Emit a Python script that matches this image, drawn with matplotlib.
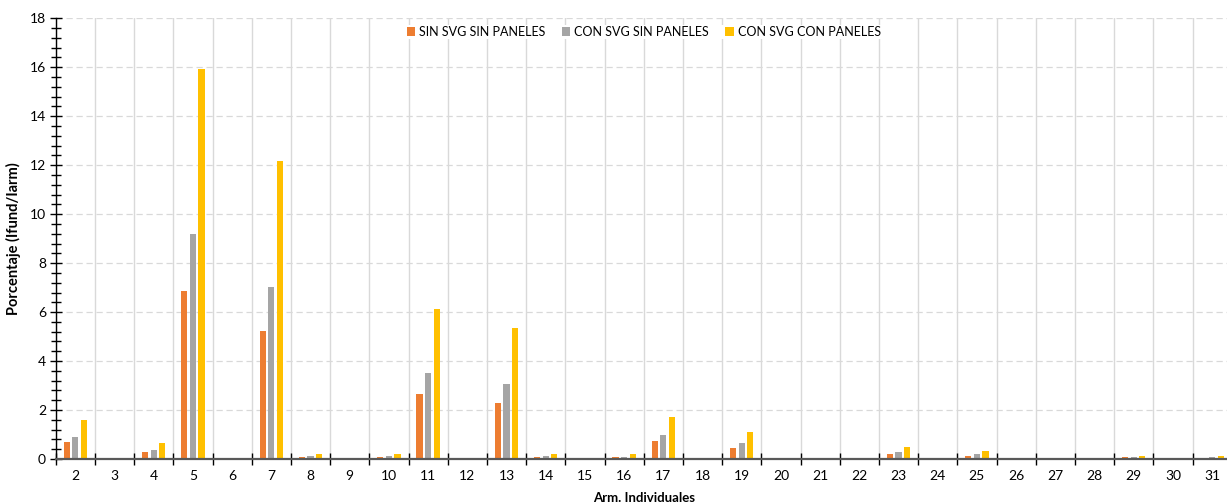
import numpy as np
import matplotlib.pyplot as plt
from matplotlib.ticker import MultipleLocator, FixedLocator, NullFormatter

plt.rcParams['font.family'] = ['Lato', 'DejaVu Sans']

# Individual armatures (x axis)
categories = [str(n) for n in range(2, 32)]

# Percentage Ifund/Iarm per configuration
sin_svg_sin_paneles = [0.68, 0, 0.29, 6.86, 0, 5.23, 0.08, 0, 0.08, 2.65,
                       0, 2.30, 0.08, 0, 0.07, 0.75, 0, 0.46, 0, 0,
                       0, 0.22, 0, 0.13, 0, 0, 0, 0.07, 0, 0.06]
con_svg_sin_paneles = [0.91, 0, 0.38, 9.18, 0, 7.01, 0.12, 0, 0.12, 3.52,
                       0, 3.06, 0.12, 0, 0.10, 0.99, 0, 0.64, 0, 0,
                       0, 0.30, 0, 0.19, 0, 0, 0, 0.07, 0, 0.08]
con_svg_con_paneles = [1.58, 0, 0.67, 15.94, 0, 12.16, 0.22, 0, 0.22, 6.12,
                       0, 5.35, 0.20, 0, 0.19, 1.73, 0, 1.10, 0, 0,
                       0, 0.50, 0, 0.33, 0, 0, 0, 0.14, 0, 0.14]

series = [
    ("SIN SVG SIN PANELES", sin_svg_sin_paneles, "#ED7D31"),
    ("CON SVG SIN PANELES", con_svg_sin_paneles, "#A5A5A5"),
    ("CON SVG CON PANELES", con_svg_con_paneles, "#FFC000"),
]

fig = plt.figure(figsize=(12.27, 5.04), dpi=100)
ax = fig.add_axes([55.7 / 1227, 1 - 459 / 504, 1176 / 1227, (459 - 18.3) / 504])

x = np.arange(len(categories))
width = 0.155
step = 0.22
for i, (name, vals, col) in enumerate(series):
    ax.bar(x + (i - 1) * step, vals, width=width, color=col, label=name, zorder=3)

ax.set_xlim(-0.5, len(categories) - 0.5)
ax.set_ylim(0, 18)

# y axis: major every 2, minor every 0.4
ax.yaxis.set_major_locator(MultipleLocator(2))
ax.yaxis.set_minor_locator(MultipleLocator(0.4))
ax.tick_params(axis='y', which='both', direction='inout', length=8, width=1,
               color='black', labelsize=10, pad=3)
ax.tick_params(axis='y', which='minor', length=7)

# x axis: tick marks at category boundaries, labels at centers
bounds = np.arange(-0.5, len(categories), 1.0)
ax.xaxis.set_major_locator(FixedLocator(bounds))
ax.xaxis.set_major_formatter(NullFormatter())
ax.xaxis.set_minor_locator(FixedLocator(x))
ax.set_xticklabels(categories, minor=True)
ax.tick_params(axis='x', which='major', direction='inout', length=8, width=1,
               color='black')
ax.tick_params(axis='x', which='minor', length=0, labelsize=10, pad=8)

# grids
ax.grid(axis='x', which='major', color='#D9D9D9', linewidth=1, linestyle='-', zorder=0)
ax.grid(axis='y', which='major', color='#D9D9D9', linewidth=0.9,
        linestyle=(0, (5, 3)), zorder=0)
ax.set_axisbelow(True)

for s in ['top', 'right']:
    ax.spines[s].set_visible(False)
ax.spines['left'].set_color('black')
ax.spines['left'].set_linewidth(1)
ax.spines['bottom'].set_color('#595959')
ax.spines['bottom'].set_linewidth(1.6)
ax.spines['bottom'].set_zorder(4)

ax.set_ylabel("Porcentaje (Ifund/Iarm)", fontsize=10.5, fontweight='bold', labelpad=6)
ax.set_xlabel("Arm. Individuales", fontsize=9.5, fontweight='bold', labelpad=7)

leg = ax.legend(loc='center', bbox_to_anchor=(0.5, 0.969), ncol=3, fontsize=9,
                frameon=True, facecolor='white', edgecolor='none', framealpha=1,
                handlelength=0.7, handleheight=0.7, handletextpad=0.3,
                columnspacing=1.3, borderpad=0.1, fancybox=False)
leg.set_zorder(5)

fig.savefig("out.png", dpi=100)
